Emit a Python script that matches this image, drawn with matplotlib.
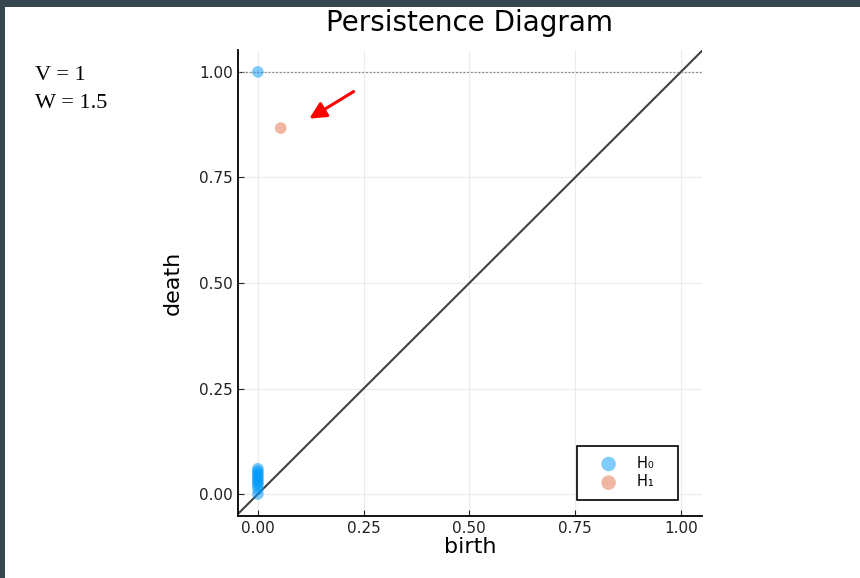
import matplotlib.pyplot as plt
import numpy as np

# H0 pairs (birth, death); the infinite one is drawn at 1.0
h0_birth = [0.0, 0.0, 0.0, 0.0, 0.0, 0.0, 0.0, 0.0, 0.0, 0.0, 0.0, 0.0]
h0_death = [0.0, 0.012, 0.02, 0.025, 0.03, 0.035, 0.04, 0.045, 0.05, 0.055, 0.06, 1.0]
h1_birth = [0.054]
h1_death = [0.867]
ticks = [0.0, 0.25, 0.5, 0.75, 1.0]
tick_labels = ["0.00", "0.25", "0.50", "0.75", "1.00"]

fig = plt.figure(figsize=(8.6, 5.78), dpi=100)
fig.patch.set_facecolor("#37474f")
# white canvas inside the dark border
bg = fig.add_axes([5/860, 0, 1 - 5/860, 1 - 7/578])
bg.set_facecolor("white")
bg.set_xticks([]); bg.set_yticks([])
for s in bg.spines.values():
    s.set_visible(False)

ax = fig.add_axes([238/860, 1 - 516/578, (702-238)/860, (516-50)/578])
lo, hi = -0.047, 1.05
ax.set_xlim(lo, hi)
ax.set_ylim(-0.052, 1.052)
ax.grid(True, color="#ebebeb", lw=0.8)
ax.set_axisbelow(True)
ax.plot([lo, hi], [lo, hi], color="#404040", lw=1.5, zorder=2)
ax.axhline(1.0, color="#888888", ls=(0, (1.5, 1.5)), lw=0.9, zorder=2)

ax.scatter(h0_birth, h0_death, s=70, color="#009afa", alpha=0.5, edgecolors="none",
           label="H\u2080   ", zorder=3)
ax.scatter(h1_birth, h1_death, s=70, color="#e36f47", alpha=0.5, edgecolors="none",
           label="H\u2081   ", zorder=3)

ax.set_xticks(ticks)
ax.set_xticklabels(tick_labels)
ax.set_yticks(ticks)
ax.set_yticklabels(tick_labels)
ax.tick_params(direction="in", length=4, labelsize=11, colors="#222222")
ax.spines["top"].set_visible(False)
ax.spines["right"].set_visible(False)
ax.spines["left"].set_linewidth(1.3)
ax.spines["bottom"].set_linewidth(1.3)
ax.set_title("Persistence Diagram", fontsize=20, pad=14)
ax.set_xlabel("birth", fontsize=16, labelpad=1)
ax.set_ylabel("death", fontsize=16, labelpad=12)

leg = ax.legend(loc="lower right", bbox_to_anchor=(0.948, 0.035), markerscale=1.25,
                fontsize=10.5, fancybox=False, edgecolor="black", framealpha=1,
                handlelength=3.0, handletextpad=0.45, borderpad=0.7, borderaxespad=0,
                labelspacing=0.25)
leg.get_frame().set_linewidth(1.2)
for h in leg.legend_handles:
    h.set_alpha(0.5)

ax.annotate("", xy=(0.116, 0.886), xytext=(0.232, 0.957),
            arrowprops=dict(arrowstyle="-|>,head_length=1.0,head_width=0.5",
                            color="red", lw=2.2))

fig.text(35/860, 1 - 75/578, "V = 1", fontsize=16, family="Liberation Serif", va="center")
fig.text(35/860, 1 - 103/578, "W = 1.5", fontsize=16, family="Liberation Serif", va="center")

fig.savefig("out.png", dpi=100, facecolor=fig.get_facecolor())
